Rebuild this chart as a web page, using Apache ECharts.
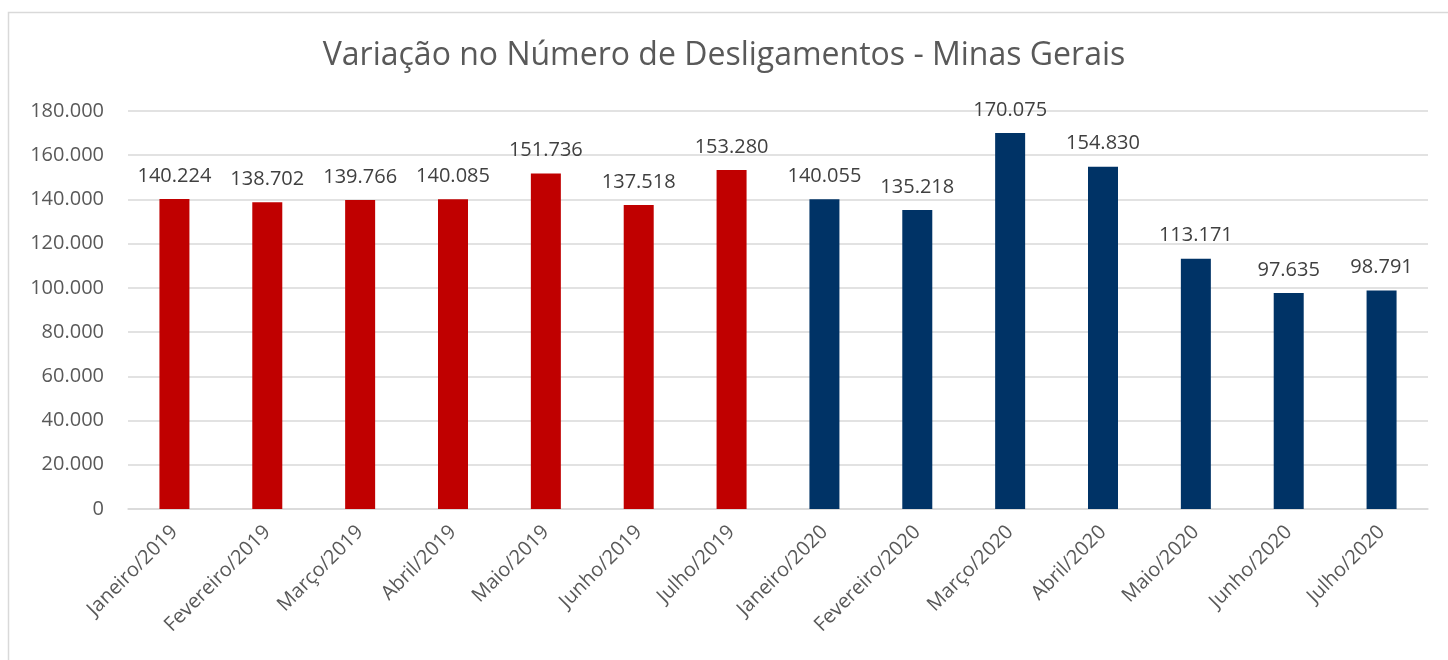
<!DOCTYPE html>
<html>
<head>
<meta charset="utf-8">
<script src="https://cdn.jsdelivr.net/npm/echarts@6/dist/echarts.min.js"></script>
<style>
  html, body { margin: 0; padding: 0; background: #fff; }
  #chart { width: 1448px; height: 660px; }
</style>
</head>
<body>
<div id="chart"></div>
<script>
// months shown on the x axis
const months = [
  'Janeiro/2019', 'Fevereiro/2019', 'Março/2019', 'Abril/2019', 'Maio/2019', 'Junho/2019', 'Julho/2019',
  'Janeiro/2020', 'Fevereiro/2020', 'Março/2020', 'Abril/2020', 'Maio/2020', 'Junho/2020', 'Julho/2020'
];
// desligamentos per month
const desligamentos = [
  140224, 138702, 139766, 140085, 151736, 137518, 153280,
  140055, 135218, 170075, 154830, 113171, 97635, 98791
];
const years = [2019, 2019, 2019, 2019, 2019, 2019, 2019, 2020, 2020, 2020, 2020, 2020, 2020, 2020];
const yearColors = { 2019: '#C00000', 2020: '#003366' };

const fontFamily = '"Open Sans", "Noto Sans", sans-serif';

// 140224 -> "140.224"
const fmt = (v) => String(Math.round(v)).replace(/\B(?=(\d{3})+(?!\d))/g, '.');

const chart = echarts.init(document.getElementById('chart'));
chart.setOption({
  animation: false,
  backgroundColor: '#fff',
  textStyle: { fontFamily: fontFamily },
  title: {
    text: 'Variação no Número de Desligamentos - Minas Gerais',
    left: 'center',
    top: 35,
    textStyle: { fontFamily: fontFamily, fontSize: 32, fontWeight: 'normal', color: '#595959' }
  },
  graphic: [{
    type: 'rect',
    shape: { x: 8.5, y: 12.5, width: 1460, height: 680 },
    style: { fill: 'none', stroke: '#d9d9d9', lineWidth: 1.5 },
    silent: true
  }],
  grid: { left: 128, right: 20, top: 111, bottom: 151 },
  xAxis: {
    type: 'category',
    data: months,
    axisLine: { lineStyle: { color: '#d9d9d9', width: 1.5 } },
    axisTick: { show: false },
    axisLabel: {
      rotate: 45,
      interval: 0,
      margin: 20,
      fontSize: 20,
      color: '#595959',
      fontFamily: fontFamily
    }
  },
  yAxis: {
    type: 'value',
    min: 0,
    max: 180000,
    interval: 20000,
    axisLine: { show: false },
    axisTick: { show: false },
    splitLine: { lineStyle: { color: '#d9d9d9', width: 1.5 } },
    axisLabel: {
      margin: 24,
      fontSize: 20,
      color: '#595959',
      fontFamily: fontFamily,
      formatter: (v) => fmt(v)
    }
  },
  series: [{
    type: 'bar',
    barWidth: 30,
    data: desligamentos.map((v, i) => ({ value: v, itemStyle: { color: yearColors[years[i]] } })),
    label: {
      show: true,
      position: 'top',
      distance: 13,
      fontSize: 20,
      color: '#404040',
      fontFamily: fontFamily,
      formatter: (p) => fmt(p.value)
    }
  }]
});
</script>
</body>
</html>
